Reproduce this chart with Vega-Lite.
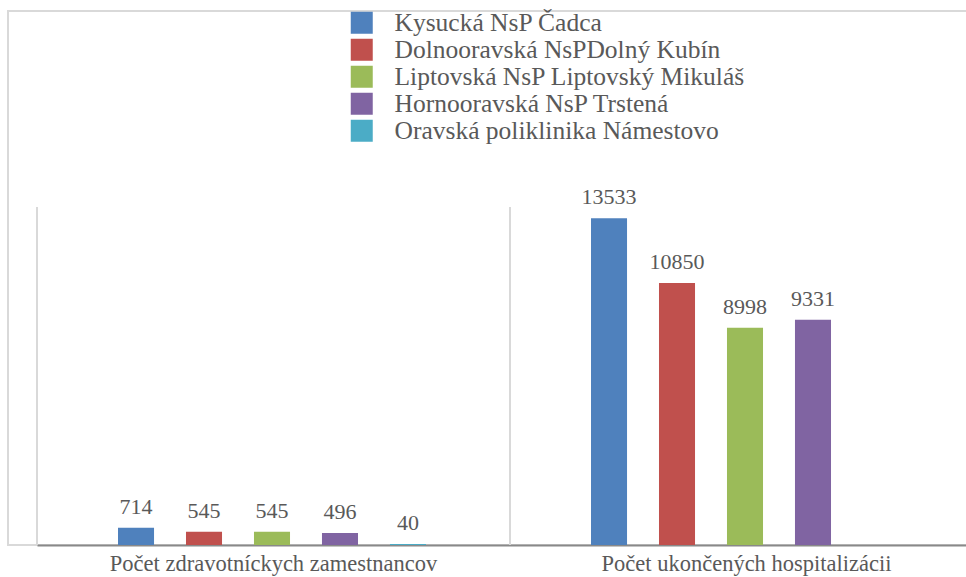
{
  "$schema": "https://vega.github.io/schema/vega-lite/v6.json",
  "width": 960,
  "height": 534,
  "autosize": {"type": "none"},
  "padding": {"left": 8, "top": 11, "right": 0, "bottom": 32},
  "background": "white",
  "config": {
    "view": {"stroke": "#d9d9d9", "strokeWidth": 2},
    "font": "Liberation Serif",
    "axis": {"labelFont": "Liberation Serif"},
    "legend": {"labelFont": "Liberation Serif"},
    "text": {"font": "Liberation Serif"}
  },
  "datasets": {
    "hodnoty": [
      {"ukazovatel": "Počet zdravotníckych zamestnancov", "zariadenie": "Kysucká NsP Čadca", "hodnota": 714},
      {"ukazovatel": "Počet zdravotníckych zamestnancov", "zariadenie": "Dolnooravská NsPDolný Kubín", "hodnota": 545},
      {"ukazovatel": "Počet zdravotníckych zamestnancov", "zariadenie": "Liptovská NsP Liptovský Mikuláš", "hodnota": 545},
      {"ukazovatel": "Počet zdravotníckych zamestnancov", "zariadenie": "Hornooravská NsP Trstená", "hodnota": 496},
      {"ukazovatel": "Počet zdravotníckych zamestnancov", "zariadenie": "Oravská poliklinika Námestovo", "hodnota": 40},
      {"ukazovatel": "Počet ukončených hospitalizácii", "zariadenie": "Kysucká NsP Čadca", "hodnota": 13533},
      {"ukazovatel": "Počet ukončených hospitalizácii", "zariadenie": "Dolnooravská NsPDolný Kubín", "hodnota": 10850},
      {"ukazovatel": "Počet ukončených hospitalizácii", "zariadenie": "Liptovská NsP Liptovský Mikuláš", "hodnota": 8998},
      {"ukazovatel": "Počet ukončených hospitalizácii", "zariadenie": "Hornooravská NsP Trstená", "hodnota": 9331}
    ],
    "oddelovace": [
      {"ukazovatel": "Počet zdravotníckych zamestnancov", "od": 0, "do": 14000},
      {"ukazovatel": "Počet ukončených hospitalizácii", "od": 0, "do": 14000}
    ]
  },
  "layer": [
    {
      "data": {"name": "oddelovace"},
      "mark": {"type": "rule", "color": "#d9d9d9", "strokeWidth": 2},
      "encoding": {
        "x": {
          "field": "ukazovatel",
          "type": "nominal",
          "bandPosition": 0,
          "sort": ["Počet zdravotníckych zamestnancov", "Počet ukončených hospitalizácii"],
          "scale": {"range": [29, 975], "paddingInner": 0, "paddingOuter": 0},
          "axis": {
            "title": null,
            "labelAngle": 0,
            "labelFont": "Liberation Serif",
            "labelFontSize": 22.5,
            "labelColor": "#595959",
            "labelPadding": 7,
            "labelLimit": 600,
            "ticks": false,
            "domainColor": "#898989",
            "domainWidth": 2,
            "grid": false
          }
        },
        "y": {"field": "od", "type": "quantitative", "scale": {"domain": [0, 14000], "range": [534, 196]}, "axis": null},
        "y2": {"field": "do"}
      }
    },
    {
      "data": {"name": "hodnoty"},
      "mark": {"type": "bar"},
      "encoding": {
        "x": {
          "field": "ukazovatel",
          "type": "nominal",
          "sort": ["Počet zdravotníckych zamestnancov", "Počet ukončených hospitalizácii"]
        },
        "xOffset": {
          "field": "zariadenie",
          "type": "nominal",
          "scale": {
            "domain": ["Kysucká NsP Čadca", "Dolnooravská NsPDolný Kubín", "Liptovská NsP Liptovský Mikuláš", "Hornooravská NsP Trstená", "Oravská poliklinika Námestovo"],
            "range": [81, 389],
            "paddingInner": 0.47,
            "paddingOuter": 0
          }
        },
        "y": {"field": "hodnota", "type": "quantitative"},
        "color": {
          "field": "zariadenie",
          "type": "nominal",
          "scale": {
            "domain": ["Kysucká NsP Čadca", "Dolnooravská NsPDolný Kubín", "Liptovská NsP Liptovský Mikuláš", "Hornooravská NsP Trstená", "Oravská poliklinika Námestovo"],
            "range": ["#4F81BD", "#C0504D", "#9BBB59", "#8064A2", "#4BACC6"]
          },
          "legend": {
            "orient": "none",
            "legendX": 341,
            "legendY": -1,
            "title": null,
            "symbolType": "square",
            "symbolSize": 484,
            "symbolStrokeWidth": 0,
            "labelFontSize": 25.5,
            "labelColor": "#595959",
            "labelFont": "Liberation Serif",
            "labelOffset": 20,
            "rowPadding": -0.3,
            "labelLimit": 600
          }
        }
      }
    },
    {
      "data": {"name": "hodnoty"},
      "mark": {"type": "text", "font": "Liberation Serif", "baseline": "bottom", "dy": -9, "fontSize": 22, "color": "#595959"},
      "encoding": {
        "x": {
          "field": "ukazovatel",
          "type": "nominal",
          "sort": ["Počet zdravotníckych zamestnancov", "Počet ukončených hospitalizácii"]
        },
        "xOffset": {"field": "zariadenie", "type": "nominal"},
        "y": {"field": "hodnota", "type": "quantitative"},
        "text": {"field": "hodnota", "type": "quantitative", "format": "d"}
      }
    }
  ]
}
